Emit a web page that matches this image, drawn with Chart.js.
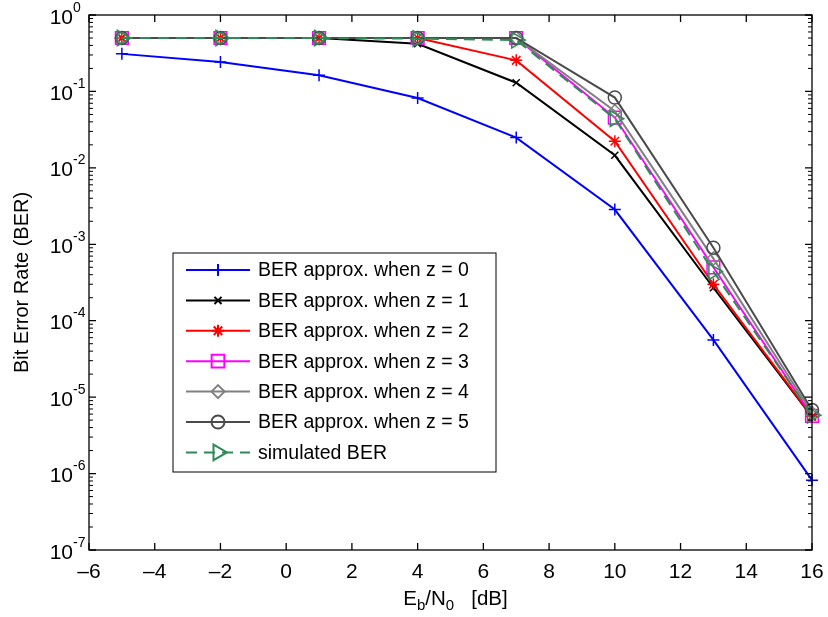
<!DOCTYPE html>
<html>
<head>
<meta charset="utf-8">
<script src="https://cdn.jsdelivr.net/npm/chart.js@4.4.0/dist/chart.umd.min.js"></script>
<style>
  html, body { margin: 0; padding: 0; background: #fff; }
  canvas { display: block; }
</style>
</head>
<body>
<canvas id="berChart" width="828" height="617"></canvas>
<script>
// Eb/N0 in dB and the BER curves
const ebn0 = [-5, -2, 1, 4, 7, 10, 13, 16];
const berZ0 = [0.31, 0.243, 0.163, 0.082, 0.0249, 0.00285, 5.6e-5, 8.2e-7];
const berZ1 = [0.5, 0.5, 0.5, 0.42, 0.13, 0.0146, 2.7e-4, 5.5e-6];
const berZ2 = [0.5, 0.5, 0.5, 0.5, 0.255, 0.0223, 3.0e-4, 5.6e-6];
const berZ3 = [0.5, 0.5, 0.5, 0.5, 0.5, 0.0455, 5.0e-4, 5.7e-6];
const berZ4 = [0.5, 0.5, 0.5, 0.5, 0.5, 0.055, 6.5e-4, 6.2e-6];
const berZ5 = [0.5, 0.5, 0.5, 0.5, 0.5, 0.083, 9.0e-4, 6.8e-6];
const berSim = [0.5, 0.5, 0.5, 0.49, 0.47, 0.044, 4.4e-4, 5.8e-6];

const seriesLabels = [
  'BER approx. when z = 0',
  'BER approx. when z = 1',
  'BER approx. when z = 2',
  'BER approx. when z = 3',
  'BER approx. when z = 4',
  'BER approx. when z = 5',
  'simulated BER'
];
const xTicks = [-6, -4, -2, 0, 2, 4, 6, 8, 10, 12, 14, 16];
const yTickExps = [0, -1, -2, -3, -4, -5, -6, -7];

const FONT = "'Liberation Sans', Arial, Helvetica, sans-serif";

const lineStyles = [
  { color: '#0000ff', point: 'cross', radius: 6 },
  { color: '#000000', point: 'crossRot', radius: 5 },
  { color: '#ff0000', point: 'star', radius: 6 },
  { color: '#ff00ff', point: 'rect', radius: 9 },
  { color: '#808080', point: 'rectRot', radius: 6.5 },
  { color: '#4a4a4a', point: 'circle', radius: 6.5 },
  { color: '#2e8b57', point: 'triangle', radius: 9, rotation: 90, dash: [11, 7] }
];

const series = [berZ0, berZ1, berZ2, berZ3, berZ4, berZ5, berSim];

const datasets = series.map((vals, i) => {
  const s = lineStyles[i];
  return {
    label: seriesLabels[i],
    data: ebn0.map((x, k) => ({ x: x, y: vals[k] })),
    borderColor: s.color,
    borderWidth: 2,
    borderDash: s.dash || [],
    pointStyle: s.point,
    pointRadius: s.radius,
    pointRotation: s.rotation || 0,
    pointBorderColor: s.color,
    pointBackgroundColor: 'transparent',
    pointBorderWidth: 1.5,
    tension: 0,
    clip: false,
    order: series.length - 1 - i
  };
});

function drawMarker(ctx, s, px, py) {
  if (Chart.helpers && Chart.helpers.drawPoint) {
    Chart.helpers.drawPoint(ctx, {
      pointStyle: s.point,
      radius: s.radius,
      rotation: s.rotation || 0,
      borderWidth: 1.5
    }, px, py);
  }
}

// box, inward ticks, exponent tick labels, x title and the legend
const axesFrame = {
  id: 'axesFrame',
  afterDatasetsDraw(chart) {
    const { ctx, chartArea: a, scales: { x, y } } = chart;
    ctx.save();
    ctx.strokeStyle = '#000';
    ctx.fillStyle = '#000';

    ctx.lineWidth = 1.3;
    ctx.strokeRect(a.left, a.top, a.right - a.left, a.bottom - a.top);

    ctx.beginPath();
    xTicks.forEach(v => {
      const px = x.getPixelForValue(v);
      ctx.moveTo(px, a.bottom); ctx.lineTo(px, a.bottom - 7);
      ctx.moveTo(px, a.top); ctx.lineTo(px, a.top + 7);
    });
    yTickExps.forEach(e => {
      const py = y.getPixelForValue(Math.pow(10, e));
      ctx.moveTo(a.left, py); ctx.lineTo(a.left + 7, py);
      ctx.moveTo(a.right, py); ctx.lineTo(a.right - 7, py);
    });
    ctx.stroke();

    ctx.lineWidth = 1;
    ctx.beginPath();
    yTickExps.slice(0, -1).forEach(e => {
      for (let m = 2; m <= 9; m++) {
        const py = y.getPixelForValue(m * Math.pow(10, e - 1));
        ctx.moveTo(a.left, py); ctx.lineTo(a.left + 4, py);
        ctx.moveTo(a.right, py); ctx.lineTo(a.right - 4, py);
      }
    });
    ctx.stroke();

    // y tick labels as 10 with a raised exponent
    ctx.textBaseline = 'alphabetic';
    yTickExps.forEach(e => {
      const py = y.getPixelForValue(Math.pow(10, e));
      ctx.font = '21px ' + FONT;
      ctx.textAlign = 'right';
      ctx.fillText('10', a.left - 16, py + 8.5);
      ctx.font = '14px ' + FONT;
      ctx.textAlign = 'left';
      ctx.fillText(e === 0 ? '0' : '-' + (-e), a.left - 16, py - 3.5);
    });

    // x axis title with subscripts
    const parts = [
      ['E', 20.5, 0], ['b', 15, 4.5], ['/N', 20.5, 0], ['0', 15, 4.5], ['   [dB]', 20.5, 0]
    ];
    let total = 0;
    parts.forEach(p => { ctx.font = p[1] + 'px ' + FONT; total += ctx.measureText(p[0]).width; });
    let tx = (a.left + a.right) / 2 + 5 - total / 2;
    const baseY = 605;
    ctx.textAlign = 'left';
    parts.forEach(p => {
      ctx.font = p[1] + 'px ' + FONT;
      ctx.fillText(p[0], tx, baseY + p[2]);
      tx += ctx.measureText(p[0]).width;
    });

    // legend
    const lx = 173, ly = 253, lw = 323, lh = 219;
    ctx.fillStyle = '#fff';
    ctx.fillRect(lx, ly, lw, lh);
    ctx.strokeStyle = '#000';
    ctx.lineWidth = 1;
    ctx.strokeRect(lx, ly, lw, lh);
    ctx.font = '19.5px ' + FONT;
    ctx.textBaseline = 'middle';
    seriesLabels.forEach((label, i) => {
      const s = lineStyles[i];
      const ry = 270 + i * 30.4;
      ctx.save();
      ctx.strokeStyle = s.color;
      ctx.lineWidth = 2;
      ctx.setLineDash(s.dash || []);
      ctx.beginPath();
      ctx.moveTo(186, ry); ctx.lineTo(250, ry);
      ctx.stroke();
      ctx.setLineDash([]);
      ctx.fillStyle = 'rgba(0,0,0,0)';
      drawMarker(ctx, s, 218, ry);
      ctx.restore();
      ctx.fillStyle = '#000';
      ctx.fillText(label, 258, ry + 1);
    });

    ctx.restore();
  }
};

new Chart(document.getElementById('berChart'), {
  type: 'line',
  data: { datasets: datasets },
  options: {
    responsive: false,
    animation: false,
    devicePixelRatio: 1,
    layout: { padding: { top: 15, right: 16, bottom: 0, left: 0 } },
    plugins: { legend: { display: false }, tooltip: { enabled: false } },
    scales: {
      x: {
        type: 'linear',
        min: -6,
        max: 16,
        afterBuildTicks: scale => { scale.ticks = xTicks.map(v => ({ value: v })); },
        afterFit: scale => {
          scale.height = 67;
          scale.paddingLeft = 0;
          scale.paddingRight = 0;
        },
        grid: { display: false, drawTicks: false },
        border: { display: false },
        ticks: {
          padding: 10,
          color: '#000',
          font: { family: FONT, size: 21 },
          maxRotation: 0,
          autoSkip: false,
          callback: v => String(v).replace('-', '\u2013')
        }
      },
      y: {
        type: 'logarithmic',
        min: 1e-7,
        max: 1,
        afterBuildTicks: scale => { scale.ticks = yTickExps.map(e => ({ value: Math.pow(10, e) })); },
        afterFit: scale => { scale.width = 89; },
        grid: { display: false, drawTicks: false },
        border: { display: false },
        ticks: { display: false },
        title: {
          display: true,
          text: 'Bit Error Rate (BER)',
          color: '#000',
          font: { family: FONT, size: 20 },
          padding: { top: 10, bottom: 0 }
        }
      }
    }
  },
  plugins: [axesFrame]
});
</script>
</body>
</html>
